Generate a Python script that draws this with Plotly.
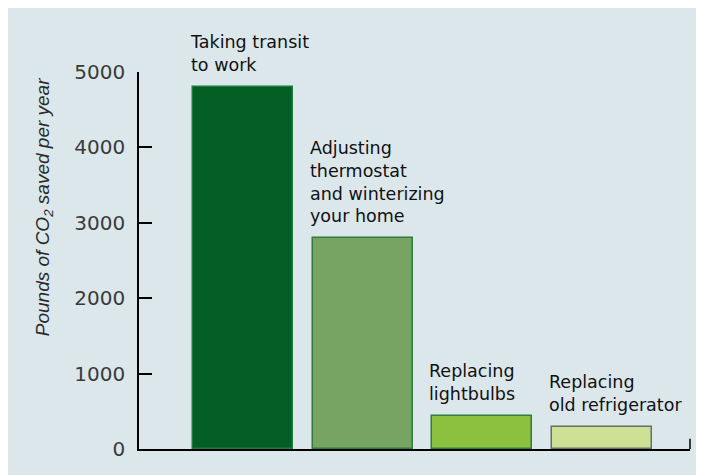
import plotly.graph_objects as go

categories = ["Taking transit<br>to work",
              "Adjusting<br>thermostat<br>and winterizing<br>your home",
              "Replacing<br>lightbulbs",
              "Replacing<br>old refrigerator"]
values = [4800, 2800, 440, 290]
tick_vals = [0, 1000, 2000, 3000, 4000, 5000]
y_title = "<i>Pounds of CO<sub>2</sub> saved per year</i>"

fill_colors = ["#035e23", "#77a462", "#8cc03f", "#cde194"]
line_colors = ["#1d7a3a", "#2f7c3f", "#2f7c3f", "#6b6b6b"]

xs = list(range(len(categories)))
bar_w = 0.835

fig = go.Figure()
fig.add_trace(go.Bar(
    x=xs, y=values, width=bar_w,
    marker=dict(color=fill_colors, line=dict(color=line_colors, width=1.5)),
    hoverinfo="skip", showlegend=False,
))

for i, (c, v) in enumerate(zip(categories, values)):
    fig.add_annotation(
        x=i - bar_w / 2, y=v, xref="x", yref="y",
        text=c, showarrow=False, xanchor="left", yanchor="bottom",
        align="left", yshift=10, xshift=-5,
        font=dict(family="DejaVu Sans", size=17.5, color="#111111"),
    )

fig.add_annotation(
    x=-0.172, y=0.642, xref="paper", yref="paper", text=y_title,
    textangle=-90, showarrow=False, xanchor="center", yanchor="middle",
    font=dict(family="Liberation Sans", size=19, color="#2a2a2a"),
)

fig.add_shape(type="line", xref="paper", yref="paper",
              x0=1, x1=1, y0=0, y1=0.027,
              line=dict(color="black", width=1.5))

fig.update_layout(
    width=704, height=475,
    paper_bgcolor="#dbe7eb", plot_bgcolor="#dbe7eb",
    margin=dict(l=131, r=22, t=64, b=34),
    bargap=0,
    xaxis=dict(range=[-0.869, 3.735], showgrid=False, zeroline=False,
               showticklabels=False, showline=True, linecolor="black",
               linewidth=1.5, ticks=""),
    yaxis=dict(range=[0, 5000], tickvals=tick_vals, showgrid=False,
               zeroline=False, showline=True, linecolor="black", linewidth=1.5,
               ticks="inside", ticklen=13, tickwidth=1.5, tickcolor="black",
               ticklabelstandoff=8,
               tickfont=dict(family="DejaVu Sans", size=20, color="#3a3a3a")),
)

fig.write_html("out.html")
